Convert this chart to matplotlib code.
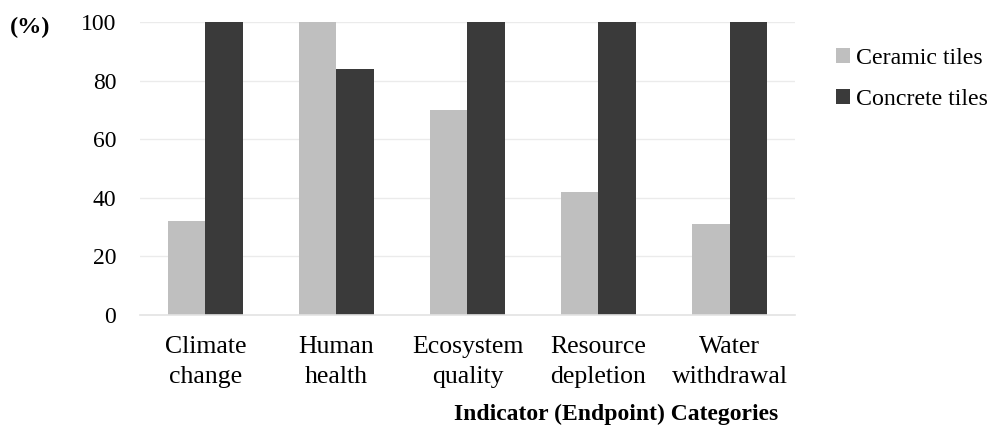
import matplotlib
matplotlib.use("Agg")
import matplotlib.pyplot as plt
import numpy as np

categories = ["Climate\nchange", "Human\nhealth", "Ecosystem\nquality", "Resource\ndepletion", "Water\nwithdrawal"]
ceramic = [32, 100, 70, 42, 31]
concrete = [100, 84, 100, 100, 100]
series_names = ["Ceramic tiles", "Concrete tiles"]
yticks = [0, 20, 40, 60, 80, 100]

plt.rcParams["font.family"] = ["Liberation Serif", "DejaVu Serif"]

fig = plt.figure(figsize=(9.97, 4.29), dpi=100)
ax = fig.add_axes([0.1404, 0.2657, 0.657, 0.683])

x = np.arange(len(categories))
w = 0.285
ax.bar(x - w / 2, ceramic, w, color="#BFBFBF", label=series_names[0], zorder=3)
ax.bar(x + w / 2, concrete, w, color="#3A3A3A", label=series_names[1], zorder=3)

ax.set_xlim(-0.5, len(categories) - 0.5)
ax.set_ylim(0, 100)
ax.set_yticks(yticks)
ax.set_xticks(x)
ax.set_xticklabels(categories, fontsize=18.5, linespacing=1.5)
ax.tick_params(axis="y", labelsize=17, length=0, pad=17)
ax.tick_params(axis="x", length=0, pad=15)
ax.yaxis.grid(True, color="#EBEBEB", linewidth=1, zorder=0)

for s in ["top", "right", "left"]:
    ax.spines[s].set_visible(False)
ax.spines["bottom"].set_color("#E3E3E3")
ax.spines["bottom"].set_linewidth(1.2)
ax.spines["bottom"].set_zorder(4)

fig.text(0.010, 0.935, "(%)", fontsize=17.5, fontweight="bold", ha="left", va="center")
fig.text(0.781, 0.035, "Indicator (Endpoint) Categories", fontsize=17, fontweight="bold",
         ha="right", va="center")

ax.legend(loc="upper left", bbox_to_anchor=(1.03, 0.985), frameon=False, fontsize=17.2,
          handlelength=0.6, handleheight=0.6, handletextpad=0.25, labelspacing=0.85)

fig.savefig("out.png", dpi=100)
